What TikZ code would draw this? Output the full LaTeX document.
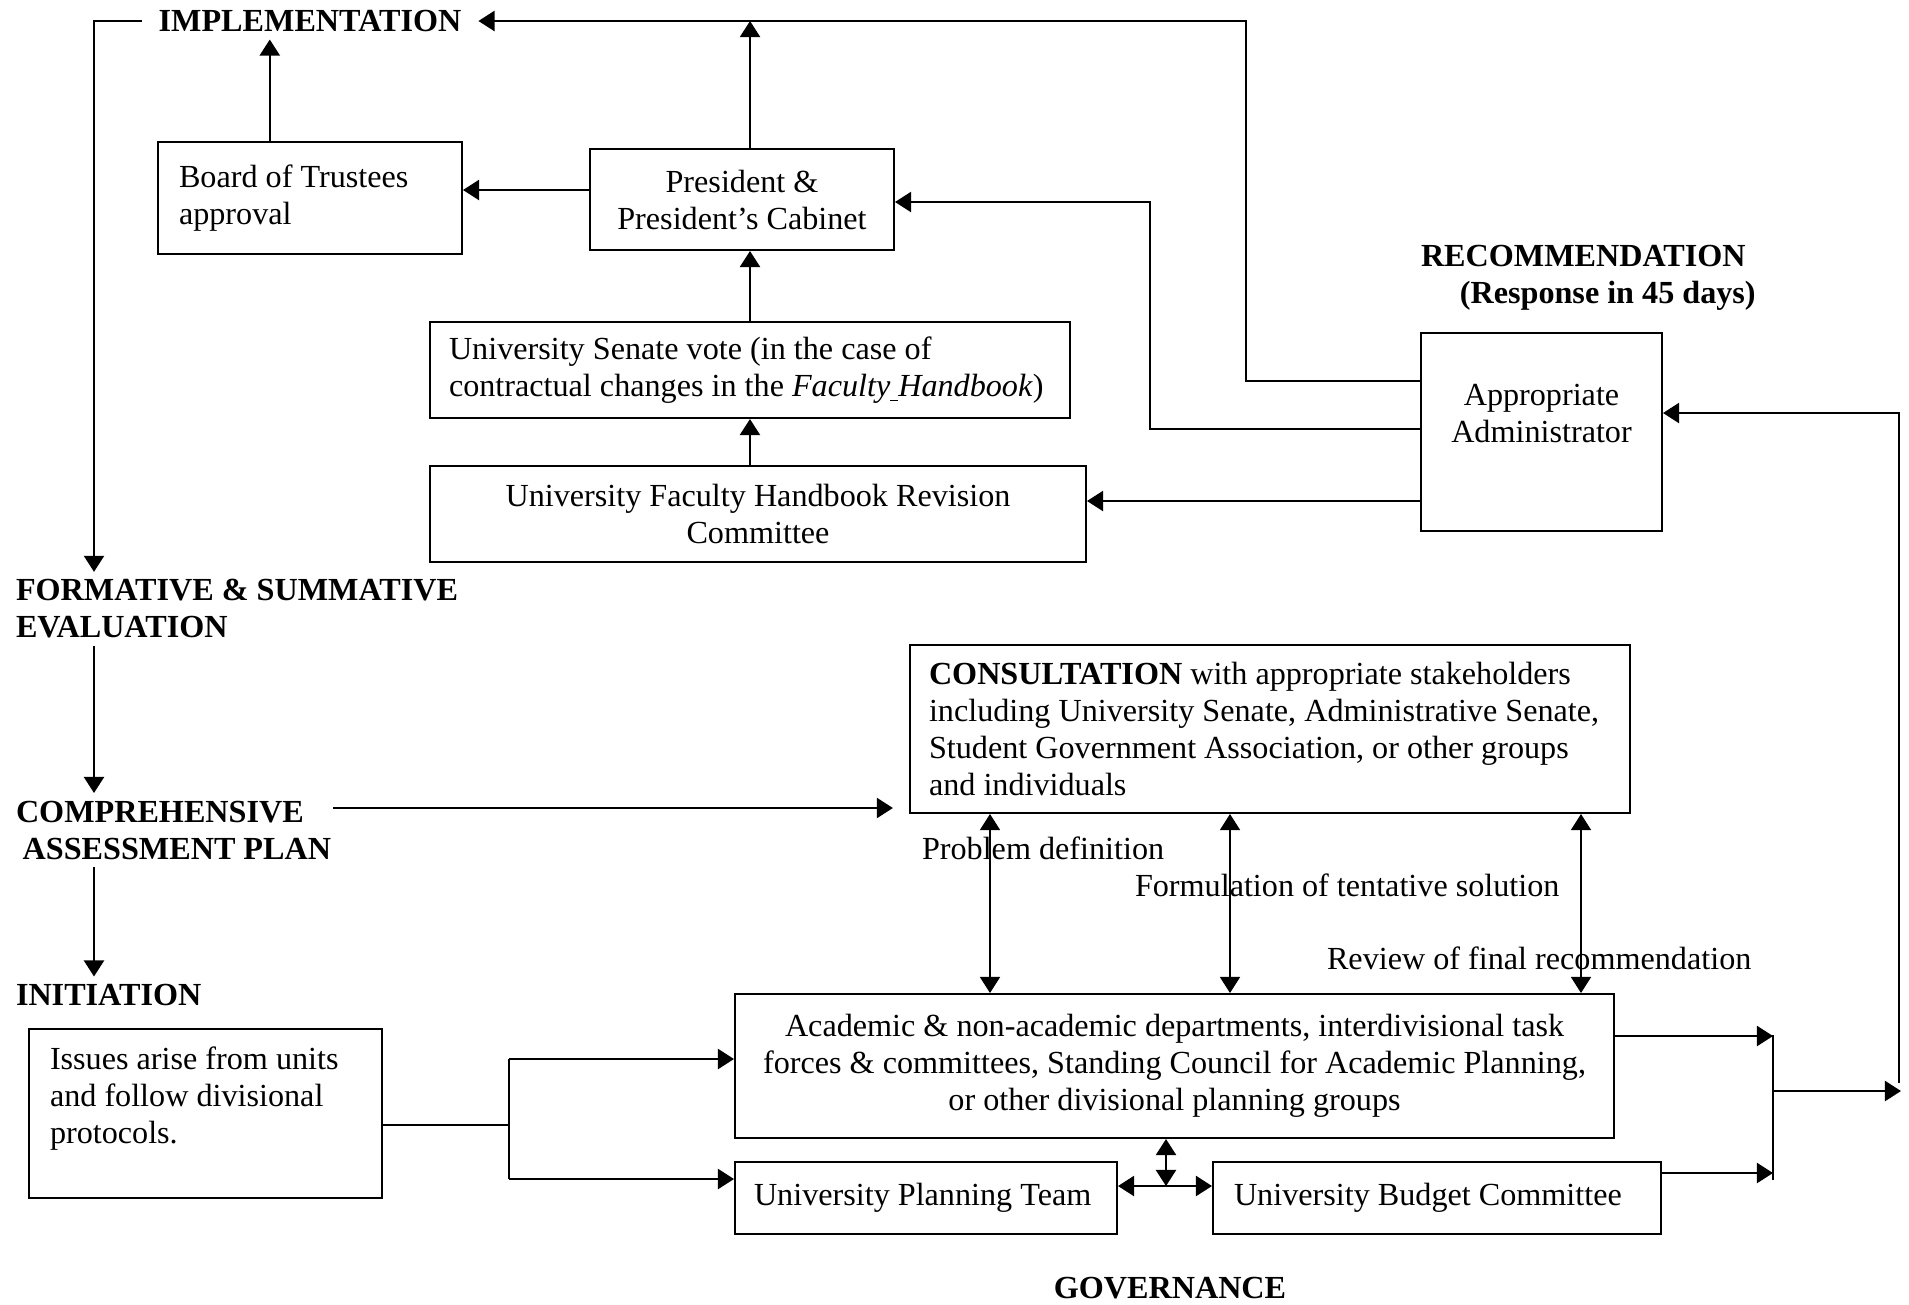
\documentclass[tikz,border=0pt]{standalone}
\usepackage{fontspec}
\setmainfont{Liberation Serif}
\usetikzlibrary{arrows.meta}
\newlength{\unitpx}
\setlength{\unitpx}{0.373pt}
\newcommand{\basefont}{\fontsize{12pt}{13.8pt}\selectfont}

\begin{document}
\begin{tikzpicture}[x=0.373pt, y=-0.373pt, line width=0.75pt]
    \tikzset{box/.style = {draw, rectangle, inner xsep=21\unitpx, inner ysep=0pt, font=\basefont}}
    \tikzset{stage/.style = {font=\basefont\bfseries, align=flush left, inner xsep=0pt, inner ysep=2.5pt}}
    \tikzset{note/.style = {font=\basefont, anchor=west, inner sep=0pt}}
    \tikzset{arr/.style = {-{Triangle[length=6pt,width=7.5pt]}}}
    \tikzset{dbl/.style = {{Triangle[length=6pt,width=7.5pt]}-{Triangle[length=6pt,width=7.5pt]}}}

    \useasboundingbox (0,0) rectangle (1909,1304);

    % stages
    \node[stage] (impl) at (310,21) {IMPLEMENTATION};
    \node[stage, anchor=west] (form) at (15,609) {FORMATIVE \& SUMMATIVE\\EVALUATION};
    \node[stage, anchor=west] (comp) at (15,830) {COMPREHENSIVE\\\hspace*{2.5pt}ASSESSMENT PLAN};
    \node[stage, anchor=west] (init) at (15,995) {INITIATION};
    \node[stage, anchor=west] (recom) at (1420,277.5) {RECOMMENDATION\\\hspace*{14.5pt}(Response in 45 days)};
    \node[stage] (gov) at (1170,1288) {GOVERNANCE};

    % boxes
    \node[box, text width=262\unitpx, minimum height=112\unitpx, align=flush left] (board) at (310,198) {Board of Trustees\\approval};
    \node[box, text width=262\unitpx, minimum height=101\unitpx, align=flush center] (pres) at (742,199.5) {President \&\\President's Cabinet};
    \node[box, text width=602\unitpx, minimum height=96\unitpx, inner xsep=19\unitpx, align=flush left] (senate) at (750,370) {University Senate vote (in the case of\\contractual changes in the \textit{Faculty\underline{\ }Handbook})};
    \node[box, text width=614\unitpx, minimum height=96\unitpx, align=flush center] (revision) at (758,514) {University Faculty Handbook Revision\\Committee};
    \node[box, text width=199\unitpx, minimum height=198\unitpx, align=flush center] (admin) at (1541.5,432) {Appropriate\\Administrator\\\mbox{}};
    \node[box, text width=682\unitpx, minimum height=168\unitpx, inner xsep=19\unitpx, align=flush left] (consult) at (1270,729) {\textbf{CONSULTATION} with appropriate stakeholders\\including University Senate, Administrative Senate,\\Student Government Association, or other groups\\and individuals};
    \node[box, text width=869\unitpx, minimum height=144\unitpx, inner xsep=5\unitpx, align=flush center] (acad) at (1174.5,1066) {Academic \& non-academic departments, interdivisional task\\forces \& committees, Standing Council for Academic Planning,\\or other divisional planning groups};
    \node[box, text width=344\unitpx, minimum height=72\unitpx, inner xsep=19\unitpx, align=flush left] (plan) at (926,1198) {University Planning Team};
    \node[box, text width=406\unitpx, minimum height=72\unitpx, align=flush left] (budget) at (1437,1198) {University Budget Committee};
    \node[box, text width=311\unitpx, minimum height=169\unitpx, align=flush left] (issues) at (205.5,1113.5) {Issues arise from units\\and follow divisional\\protocols.\\\mbox{}};

    % labels on the consultation arrows
    \node[note] (probdef) at (921,848) {Problem definition};
    \node[note] (formul) at (1134,885) {Formulation of tentative solution};
    \node[note] (review) at (1326,958) {Review of final recommendation};

    \coordinate (turnL) at (94,21);
    \coordinate (compOut) at (333,808);
    \coordinate (fork) at (509,1125);
    \coordinate (hub) at (1166,1186);
    \coordinate (merge) at (1773,1091);
    \coordinate (loopR) at (1899,1083);

    % left cycle
    \draw[arr] ([xshift=-6pt]impl.west) -| (form.north -| turnL);
    \draw[arr] (form.south -| turnL) -- (comp.north -| turnL);
    \draw[arr] (comp.south -| turnL) -- (init.north -| turnL);
    \draw[arr, shorten >=6pt] (compOut) -- (consult.west |- compOut);

    % top part
    \draw[arr] ([xshift=-15pt]board.north) -- ([xshift=-15pt]board.north |- impl.south);
    \draw[arr] ([xshift=3pt]pres.north) -- ([xshift=3pt]pres.north |- impl.east);
    \draw[arr] (pres.west |- 0,190) -- (board.east |- 0,190);
    \draw[arr] (senate.north) -- (senate.north |- pres.south);
    \draw[arr] ([xshift=-3pt]revision.north) -- ([xshift=-3pt]revision.north |- senate.south);
    \draw[arr] (admin.west |- 0,381) -| (1246,21) -- ([xshift=6pt]impl.east);
    \draw[arr] (admin.west |- 0,429) -| (1150,202) -- (pres.east |- 0,202);
    \draw[arr] (admin.west |- 0,501) -- (revision.east |- 0,501);
    \draw[arr] (loopR) |- (admin.east |- 0,413);

    % consultation
    \foreach \x in {990,1230,1581}
        \draw[dbl, line width=0.5pt] (consult.south -| \x,0) -- (acad.north -| \x,0);

    % governance
    \draw (issues.east |- fork) -- (fork);
    \draw (fork |- 0,1059) -- (fork |- 0,1179);
    \draw[arr] (fork |- 0,1059) -- (acad.west |- 0,1059);
    \draw[arr] (fork |- 0,1179) -- (plan.west |- 0,1179);
    \draw[dbl] (acad.south -| hub) -- (hub);
    \draw[dbl] (plan.east |- hub) -- (budget.west |- hub);
    \draw (merge |- 0,1035) -- (merge |- 0,1180);
    \draw[arr] (acad.east |- 0,1036) -- (merge |- 0,1036);
    \draw[arr] (budget.east |- 0,1173) -- (merge |- 0,1173);
    \draw[arr] (merge) -- (1901,1091);
\end{tikzpicture}
\end{document}
